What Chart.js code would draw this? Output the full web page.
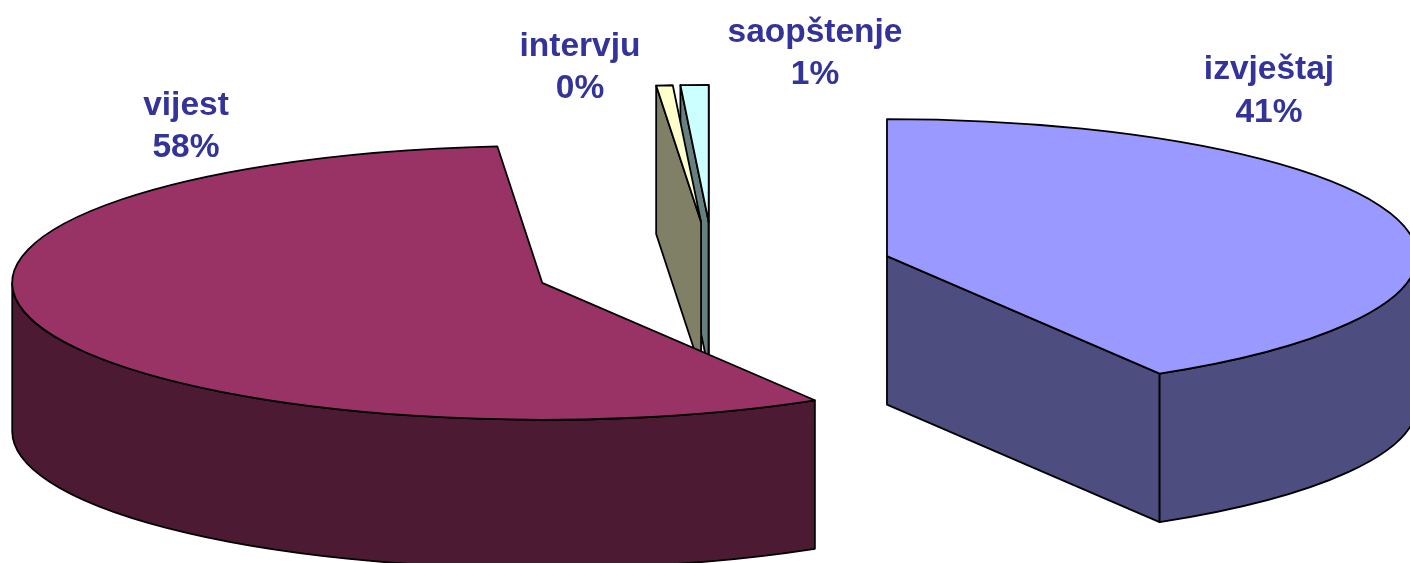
<!DOCTYPE html>
<html>
<head>
<meta charset="utf-8">
<title>Pie</title>
<script src="https://cdn.jsdelivr.net/npm/chart.js@4/dist/chart.umd.js"></script>
<style>
  html, body { margin: 0; padding: 0; background: #fff; overflow: hidden; }
  canvas { display: block; }
</style>
</head>
<body>
<canvas id="canvas_grafico" width="1410" height="563"></canvas>
<script>
// clockwise from 12 o'clock
const categories = ['izvještaj', 'vijest', 'intervju', 'saopštenje'];
const shares = [41.4, 57.25, 0.5, 0.85];
const percentLabels = ['41%', '58%', '0%', '1%'];

const topColors = ['#9999FF', '#993366', '#FFFFCC', '#CCFFFF'];
const sideColors = ['#4D4D80', '#4D1A33', '#808066', '#668080'];

// label centre x, first line baseline, second line baseline
const labelSpots = [[1269, 79, 122], [186, 115, 157], [580, 56, 98], [815, 42, 84]];

// look of the tilted pie
const pieCentreX = 713.5;
const pieCentreY = 268.5;
const pieRadius = 530;
const tilt = 0.2585;      // vertical squash of the disc
const explode = 180;      // how far slices are pulled out, before squash
const depth = 148.5;      // height of the walls in pixels

function sliceGeometry(arc) {
    const p = arc.getProps(['startAngle', 'endAngle', 'outerRadius']);
    const mid = (p.startAngle + p.endAngle) / 2;
    return {
        start: p.startAngle,
        end: p.endAngle,
        rx: p.outerRadius,
        ry: p.outerRadius * tilt,
        cx: pieCentreX + Math.cos(mid) * explode,
        cy: pieCentreY + Math.sin(mid) * explode * tilt
    };
}

function drawFace(ctx, g, angle) {
    // wall under one straight edge of the slice
    const x = g.cx + Math.cos(angle) * g.rx;
    const y = g.cy + Math.sin(angle) * g.ry;
    ctx.beginPath();
    ctx.moveTo(g.cx, g.cy);
    ctx.lineTo(x, y);
    ctx.lineTo(x, y + depth);
    ctx.lineTo(g.cx, g.cy + depth);
    ctx.closePath();
    ctx.fill();
    ctx.stroke();
}

function drawRim(ctx, g) {
    // only the part of the rim facing the viewer (sin > 0)
    let a = g.start;
    let b = g.end;
    const turn = Math.PI * 2;
    while (a < 0) { a += turn; b += turn; }
    const from = Math.max(a, 0);
    const to = Math.min(b, Math.PI);
    if (to > from) {
        ctx.beginPath();
        ctx.ellipse(g.cx, g.cy, g.rx, g.ry, 0, from, to);
        ctx.ellipse(g.cx, g.cy + depth, g.rx, g.ry, 0, to, from, true);
        ctx.closePath();
        ctx.fill();
        ctx.stroke();
    }
    if (b > turn) {
        ctx.beginPath();
        ctx.ellipse(g.cx, g.cy, g.rx, g.ry, 0, 0, Math.min(b - turn, Math.PI));
        ctx.ellipse(g.cx, g.cy + depth, g.rx, g.ry, 0, Math.min(b - turn, Math.PI), 0, true);
        ctx.closePath();
        ctx.fill();
        ctx.stroke();
    }
}

const tiltedPie = {
    id: 'tiltedPie',
    beforeDatasetDraw(chart, args) {
        const ctx = chart.ctx;
        const arcs = args.meta.data;
        const geo = arcs.map(sliceGeometry);

        ctx.save();
        ctx.lineWidth = 1.8;
        ctx.lineJoin = 'round';
        ctx.strokeStyle = '#000';

        // walls, from the back slices to the front ones
        for (let i = arcs.length - 1; i >= 0; i--) {
            const g = geo[i];
            ctx.fillStyle = sideColors[i];
            // a straight edge only shows a wall when it faces the viewer
            if (Math.cos(g.start) < -1e-6) drawFace(ctx, g, g.start);
            if (Math.cos(g.end) > -1e-6) drawFace(ctx, g, g.end);
            drawRim(ctx, g);
        }

        // tops: the library's own arcs, squashed on to the disc
        arcs.forEach((arc, i) => {
            const g = geo[i];
            ctx.save();
            ctx.translate(g.cx, g.cy);
            ctx.scale(1, tilt);
            ctx.translate(-arc.x, -arc.y);
            arc.draw(ctx);
            ctx.restore();

            ctx.beginPath();
            ctx.moveTo(g.cx, g.cy);
            ctx.ellipse(g.cx, g.cy, g.rx, g.ry, 0, g.start, g.end);
            ctx.closePath();
            ctx.stroke();
        });
        ctx.restore();

        // labels
        ctx.save();
        ctx.fillStyle = '#333399';
        ctx.font = 'bold 33.5px "Liberation Sans"';
        ctx.textAlign = 'center';
        categories.forEach((name, i) => {
            const s = labelSpots[i];
            ctx.fillText(name, s[0], s[1]);
            ctx.fillText(percentLabels[i], s[0], s[2]);
        });
        ctx.restore();
        return false;
    }
};

new Chart(document.getElementById('canvas_grafico').getContext('2d'), {
    type: 'pie',
    data: {
        labels: categories,
        datasets: [{
            data: shares,
            backgroundColor: topColors,
            borderWidth: 0,
            clip: false
        }]
    },
    options: {
        responsive: false,
        animation: false,
        radius: pieRadius,
        plugins: {
            legend: { display: false },
            tooltip: { enabled: false }
        }
    },
    plugins: [tiltedPie]
});
</script>
</body>
</html>
